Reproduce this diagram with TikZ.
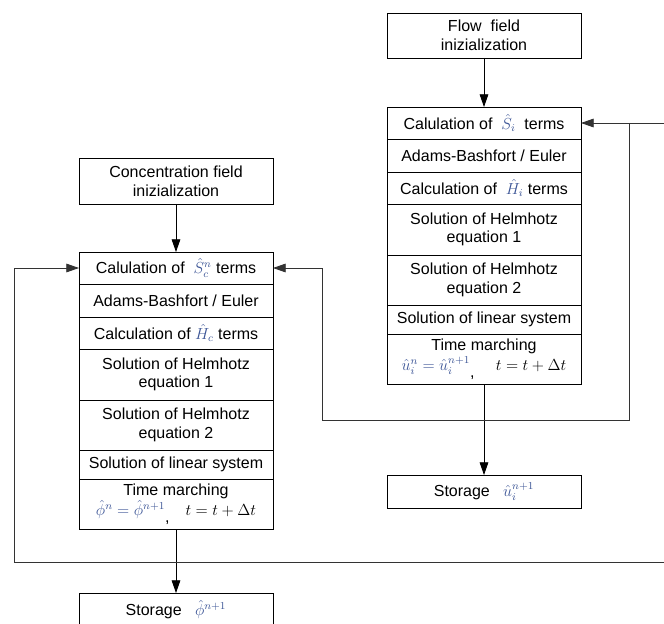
\documentclass[tikz,border=0pt]{standalone}
\usepackage{fontspec}
\setmainfont{Liberation Sans}
\usetikzlibrary{arrows.meta,positioning}
\definecolor{mathblue}{RGB}{60,85,150}
\newcommand{\bl}[1]{\textcolor{mathblue}{$#1$}}
\begin{document}
\begin{tikzpicture}
					[x=0.75pt,y=-0.75pt,
					every node/.style={font=\fontsize{12}{14}\selectfont,align=center,outer sep=0pt},
					box/.style={draw,line width=0.6pt,minimum width=145.5pt,inner sep=2pt},
					r1/.style={box,minimum height=24pt},
					r2/.style={box,minimum height=24.75pt},
					r4/.style={box,minimum height=38.25pt},
					r5/.style={box,minimum height=37.5pt},
					r6/.style={box,minimum height=21.75pt},
					flowto/.style={-{Triangle[length=9.5pt,width=6.5pt]},line width=0.6pt},
					back/.style={-{Triangle[length=9.5pt,width=6.5pt]},line width=0.6pt,draw=black!80}]
					\useasboundingbox (0,0) rectangle (664,624);
					% flow field
					\node[box,minimum height=33.75pt] (flow) at (484,35.5) {Flow\ \ field\\inizialization};
					\node[r1,below=36.75pt of flow] (u1) {Calulation of \ \bl{\hat{S}_i}\ \ terms};
					\node[r2,below=0pt of u1] (u2) {Adams-Bashfort / Euler};
					\node[r1,below=0pt of u2] (u3) {Calculation of \ \bl{\hat{H}_i} terms};
					\node[r4,below=0pt of u3] (u4) {Solution of Helmhotz\\equation 1};
					\node[r5,below=0pt of u4] (u5) {Solution of Helmhotz\\equation 2};
					\node[r6,below=0pt of u5] (u6) {Solution of linear system};
					\node[r5,below=0pt of u6] (u7) {Time marching\\[1pt]\bl{\hat{u}_i^n=\hat{u}_i^{n+1}}\raisebox{-5pt}{,}\hspace{16pt}$t=t+\Delta t$};
					\node[r2,below=68.25pt of u7] (storu) {Storage\ \ \ \bl{\hat{u}_i^{n+1}}};
					% concentration field
					\node[box,minimum height=34.5pt] (conc) at (176,181) {Concentration field\\inizialization};
					\node[r1,below=36pt of conc] (c1) {Calulation of \ \bl{\hat{S}_c^n} terms};
					\node[r2,below=0pt of c1] (c2) {Adams-Bashfort / Euler};
					\node[r1,below=0pt of c2] (c3) {Calculation of \bl{\hat{H}_c} terms};
					\node[r4,below=0pt of c3] (c4) {Solution of Helmhotz\\equation 1};
					\node[r5,below=0pt of c4] (c5) {Solution of Helmhotz\\equation 2};
					\node[r6,below=0pt of c5] (c6) {Solution of linear system};
					\node[r5,below=0pt of c6] (c7) {Time marching\\[1pt]\bl{\hat{\phi}^n=\hat{\phi}^{n+1}}\raisebox{-5pt}{,}\hspace{12pt}$t=t+\Delta t$};
					\node[r2,below=48pt of c7] (storphi) {Storage\ \ \ \bl{\hat{\phi}^{n+1}}};
					% connectors
					\draw[flowto] (flow) -- (u1);
					\draw[flowto] (u7) -- (storu);
					\draw[flowto] (conc) -- (c1);
					\draw[flowto] (c7) -- (storphi);
					\coordinate (eR) at (664,123);
					\coordinate (rj) at (629,123);
					\coordinate (rb) at (322,420);
					\coordinate (eL) at (664,562);
					\coordinate (lb) at (14,562);
					\draw[back] (eR) -- (u1);
					\draw[back] (rj) |- (rb) |- (c1);
					\draw[back] (eL) -- (lb) |- (c1);
				\end{tikzpicture}
\end{document}
